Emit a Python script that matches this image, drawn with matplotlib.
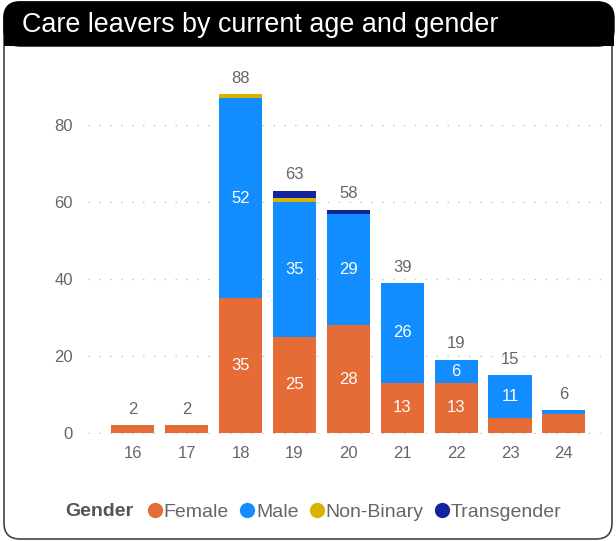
import numpy as np
import matplotlib
matplotlib.use("Agg")
import matplotlib.pyplot as plt
from matplotlib.patches import FancyBboxPatch, Rectangle
from matplotlib.lines import Line2D
from matplotlib.transforms import IdentityTransform

plt.rcParams['font.family'] = ['Liberation Sans', 'DejaVu Sans']

# data
ages = ['16', '17', '18', '19', '20', '21', '22', '23', '24']
female = [2, 2, 35, 25, 28, 13, 13, 4, 5]
male = [0, 0, 52, 35, 29, 26, 6, 11, 1]
non_binary = [0, 0, 1, 1, 0, 0, 0, 0, 0]
transgender = [0, 0, 0, 2, 1, 0, 0, 0, 0]
totals = [2, 2, 88, 63, 58, 39, 19, 15, 6]

series = [('Female', female, '#E66C37'),
          ('Male', male, '#118DFF'),
          ('Non-Binary', non_binary, '#D9B300'),
          ('Transgender', transgender, '#12239E')]

W, H = 616, 541
fig = plt.figure(figsize=(W / 100, H / 100), dpi=100)

# card frame + black title bar (pixel coords)
ident = IdentityTransform()
frame = FancyBboxPatch((4, 2), W - 8, H - 4, boxstyle="round,pad=0,rounding_size=16",
                       transform=ident, facecolor='white', edgecolor='#444444',
                       linewidth=1.2, zorder=0)
fig.patches.append(frame)
bar_top = FancyBboxPatch((4, H - 46), W - 6, 44, boxstyle="round,pad=0,rounding_size=16",
                         transform=ident, facecolor='black', edgecolor='black', zorder=1)
fig.patches.append(bar_top)
fig.patches.append(Rectangle((4, H - 46), W - 6, 20, transform=ident,
                             facecolor='black', edgecolor='none', zorder=1))
fig.text(22 / W, 1 - 25 / H, 'Care leavers by current age and gender', color='white',
         fontsize=19.4, va='center', ha='left', zorder=2)

ax = fig.add_axes([88 / W, 1 - 433.5 / H, (607 - 88) / W, (433.5 - 79) / H])
ax.set_zorder(3)
ax.patch.set_alpha(0)

x = np.arange(len(ages))
bottom = np.zeros(len(ages))
for name, vals, col in series:
    vals = np.array(vals, dtype=float)
    ax.bar(x, vals, 0.8, bottom=bottom, color=col, label=name, zorder=3)
    for i, v in enumerate(vals):
        if v >= 6 and name in ('Female', 'Male'):
            ax.text(x[i], bottom[i] + v / 2, f'{int(v)}', ha='center', va='center',
                    color='white', fontsize=12, zorder=4)
    bottom += vals

for i, t in enumerate(totals):
    ax.annotate(str(t), (x[i], bottom[i]), xytext=(0, 6), textcoords='offset points',
                ha='center', va='bottom', color='#666666', fontsize=12)

ax.set_xlim(-0.83, 8.8)
ax.set_ylim(-0.15, 92)
ax.set_yticks([0, 20, 40, 60, 80])
ax.set_xticks(x)
ax.set_xticklabels(ages)
ax.tick_params(length=0, labelsize=12, colors='#666666')
ax.tick_params(axis='y', pad=11)
ax.tick_params(axis='x', pad=9)
ax.yaxis.grid(True, color='#c8c8c8', linestyle=(0, (1.3, 7.4)), linewidth=0.9, zorder=0)
ax.set_axisbelow(True)
for s in ax.spines.values():
    s.set_visible(False)

fig.text(65 / W, 1 - 512 / H, 'Gender', fontsize=14, fontweight='bold', color='#555555',
         va='center', ha='left')
handles = [Line2D([], [], marker='o', linestyle='none', markersize=11, color=c,
                  markeredgewidth=0) for _, _, c in series]
fig.legend(handles, [n for n, _, _ in series], loc='center left',
           bbox_to_anchor=(143 / W, 1 - 512 / H), ncol=4, frameon=False,
           fontsize=14, labelcolor='#666666', handletextpad=-0.15, columnspacing=0.35,
           handlelength=1.2, borderaxespad=0, borderpad=0)

fig.savefig('out.png', dpi=100)
